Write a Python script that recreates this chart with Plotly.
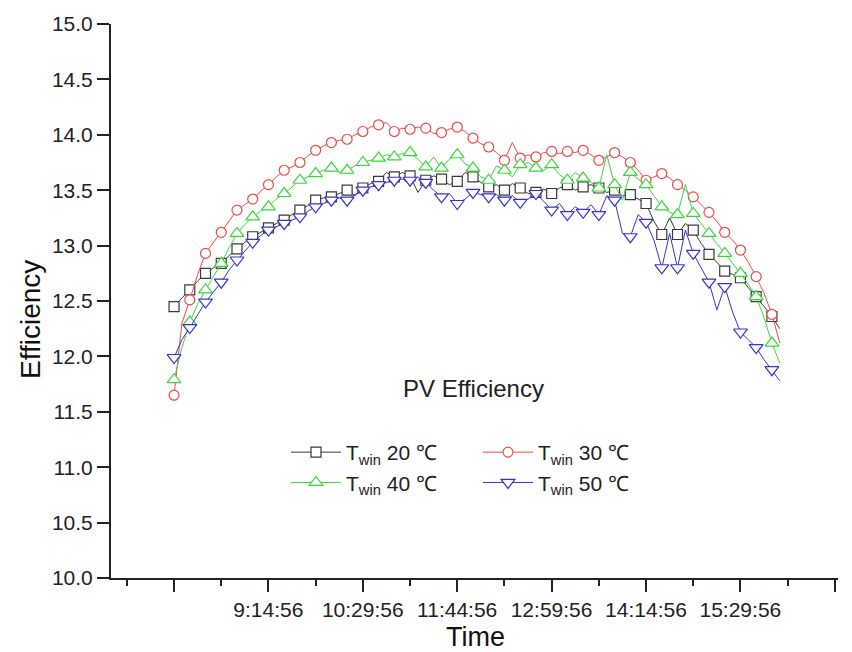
import plotly.graph_objects as go

# ---------------- data ----------------
START_MIN = 480.0          # 08:00:00
STEP_MIN = 6.25            # sampling interval (minutes)

EFF_20 = [12.45, 12.53, 12.60, 12.68, 12.75, 12.80, 12.84, 12.91, 12.97, 13.03,
          13.08, 13.12, 13.16, 13.20, 13.23, 13.28, 13.32, 13.36, 13.41, 13.43,
          13.44, 13.47, 13.50, 13.45, 13.52, 13.56, 13.58, 13.66, 13.62, 13.66,
          13.63, 13.48, 13.59, 13.63, 13.60, 13.55, 13.58, 13.66, 13.62, 13.57,
          13.53, 13.55, 13.50, 13.56, 13.52, 13.47, 13.48, 13.51, 13.47, 13.52,
          13.55, 13.50, 13.53, 13.55, 13.52, 13.48, 13.50, 13.45, 13.46, 13.42,
          13.38, 13.22, 13.10, 13.25, 13.10, 13.20, 13.14, 13.02, 12.92, 12.85,
          12.77, 12.74, 12.71, 12.62, 12.54, 12.45, 12.36, 12.25]

EFF_30 = [11.65, 12.30, 12.51, 12.74, 12.93, 13.03, 13.12, 13.23, 13.32, 13.37,
          13.42, 13.49, 13.55, 13.62, 13.68, 13.71, 13.75, 13.81, 13.86, 13.90,
          13.93, 13.95, 13.96, 14.00, 14.03, 14.07, 14.09, 14.11, 14.03, 14.06,
          14.05, 14.07, 14.06, 14.01, 14.02, 14.05, 14.07, 14.03, 13.97, 13.92,
          13.89, 13.84, 13.77, 13.93, 13.79, 13.82, 13.80, 13.84, 13.85, 13.83,
          13.85, 13.84, 13.86, 13.82, 13.77, 13.80, 13.84, 13.80, 13.75, 13.68,
          13.59, 13.62, 13.65, 13.61, 13.55, 13.50, 13.44, 13.37, 13.30, 13.22,
          13.12, 13.05, 12.96, 12.85, 12.72, 12.57, 12.38, 12.12]

EFF_40 = [11.79, 12.08, 12.31, 12.47, 12.60, 12.72, 12.84, 12.98, 13.11, 13.19,
          13.26, 13.31, 13.35, 13.42, 13.47, 13.53, 13.59, 13.62, 13.65, 13.68,
          13.70, 13.66, 13.68, 13.72, 13.75, 13.77, 13.79, 13.82, 13.80, 13.83,
          13.84, 13.78, 13.71, 13.80, 13.70, 13.78, 13.82, 13.74, 13.70, 13.62,
          13.59, 13.72, 13.68, 13.62, 13.73, 13.75, 13.70, 13.68, 13.73, 13.64,
          13.59, 13.66, 13.61, 13.57, 13.52, 13.82, 13.55, 13.41, 13.66, 13.60,
          13.55, 13.45, 13.35, 13.30, 13.28, 13.55, 13.29, 13.20, 13.11, 13.02,
          12.93, 12.85, 12.75, 12.65, 12.54, 12.35, 12.12, 11.94]

EFF_50 = [11.99, 12.15, 12.26, 12.38, 12.49, 12.58, 12.67, 12.78, 12.87, 12.95,
          13.03, 13.09, 13.14, 13.17, 13.20, 13.23, 13.26, 13.31, 13.35, 13.38,
          13.41, 13.43, 13.41, 13.46, 13.50, 13.53, 13.55, 13.57, 13.59, 13.60,
          13.59, 13.62, 13.57, 13.50, 13.44, 13.47, 13.38, 13.42, 13.48, 13.46,
          13.44, 13.46, 13.41, 13.45, 13.39, 13.42, 13.47, 13.40, 13.32, 13.38,
          13.28, 13.35, 13.30, 13.37, 13.28, 13.45, 13.41, 13.11, 13.08, 13.28,
          13.21, 13.05, 12.80, 13.11, 12.80, 13.14, 12.93, 12.80, 12.67, 12.42,
          12.63, 12.40, 12.22, 12.15, 12.08, 11.97, 11.88, 11.78]

TICK_MIN = [479.93, 554.93, 629.93, 704.93, 779.93, 854.93, 929.93, 1004.93]
TICK_TEXT = ["", "9:14:56", "10:29:56", "11:44:56", "12:59:56", "14:14:56", "15:29:56", ""]
MINOR_MIN = [442.43, 517.43, 592.43, 667.43, 742.43, 817.43, 892.43, 967.43]

SERIES = [
    ("T<sub>win</sub> 20 ℃", EFF_20, "#3a3a3a", "square", "legend"),
    ("T<sub>win</sub> 30 ℃", EFF_30, "#f04848", "circle", "legend2"),
    ("T<sub>win</sub> 40 ℃", EFF_40, "#38d838", "triangle-up", "legend"),
    ("T<sub>win</sub> 50 ℃", EFF_50, "#3434d0", "triangle-down", "legend2"),
]

x = [START_MIN + STEP_MIN * i for i in range(len(EFF_20))]

FONT = "Liberation Sans, Arial, sans-serif"
W, H = 852, 652
ML, MR, MT, MB = 111, 14, 24, 74
PW, PH = W - ML - MR, H - MT - MB


def px_x(p):
    return (p - ML) / PW


def px_y(p):
    return (H - MB - p) / PH


fig = go.Figure()

for name, vals, col, sym, leg in SERIES:
    msize = 10 if sym in ("square", "circle") else 12
    fig.add_trace(go.Scatter(x=x, y=vals, mode="lines", line=dict(color=col, width=1),
                             showlegend=False, hoverinfo="skip"))
    fig.add_trace(go.Scatter(x=x[::2], y=vals[::2], mode="markers",
                             marker=dict(symbol=sym, size=msize, color="white",
                                         line=dict(color=col, width=1.2)),
                             showlegend=False))
    fig.add_trace(go.Scatter(x=[None], y=[None], mode="lines+markers", name=name,
                             line=dict(color=col, width=1),
                             marker=dict(symbol=sym, size=msize, color="white",
                                         line=dict(color=col, width=1.2)),
                             legend=leg))

legend_common = dict(bgcolor="rgba(0,0,0,0)", font=dict(family=FONT, size=21, color="#222"),
                     xanchor="left", yanchor="top", tracegroupgap=0, itemwidth=50)

fig.update_layout(
    width=W, height=H,
    margin=dict(l=ML, r=MR, t=MT, b=MB),
    plot_bgcolor="white", paper_bgcolor="white",
    font=dict(family=FONT, color="#222"),
    xaxis=dict(range=[429.9, 1007.5], showgrid=False, zeroline=False,
               showline=True, linecolor="#222", linewidth=2,
               tickmode="array", tickvals=TICK_MIN, ticktext=TICK_TEXT,
               ticks="outside", ticklen=12, tickwidth=2, tickcolor="#222",
               tickfont=dict(family=FONT, size=21, color="#222"),
               minor=dict(tickmode="array", tickvals=MINOR_MIN, ticks="outside",
                          ticklen=6, tickwidth=2, tickcolor="#222")),
    yaxis=dict(range=[10, 15], showgrid=False, zeroline=False,
               showline=True, linecolor="#222", linewidth=2,
               tickmode="array", tickvals=[10 + 0.5 * k for k in range(11)],
               tickformat=".1f",
               ticks="outside", ticklen=12, tickwidth=2, tickcolor="#222",
               tickfont=dict(family=FONT, size=21, color="#222")),
    legend=dict(x=px_x(286), y=px_y(432), **legend_common),
    legend2=dict(x=px_x(478), y=px_y(432), **legend_common),
    annotations=[
        dict(text="PV Efficiency", x=px_x(473), y=px_y(388), xref="paper", yref="paper",
             xanchor="center", yanchor="middle",
             showarrow=False, font=dict(family=FONT, size=24, color="#222")),
        dict(text="Efficiency", x=px_x(30), y=px_y(320), xref="paper", yref="paper",
             xanchor="center", yanchor="middle",
             showarrow=False, textangle=-90, font=dict(family=FONT, size=28, color="#111")),
        dict(text="Time", x=px_x(475), y=px_y(637), xref="paper", yref="paper",
             xanchor="center", yanchor="middle",
             showarrow=False, font=dict(family=FONT, size=27, color="#111")),
    ],
)

fig.write_html("out.html")
